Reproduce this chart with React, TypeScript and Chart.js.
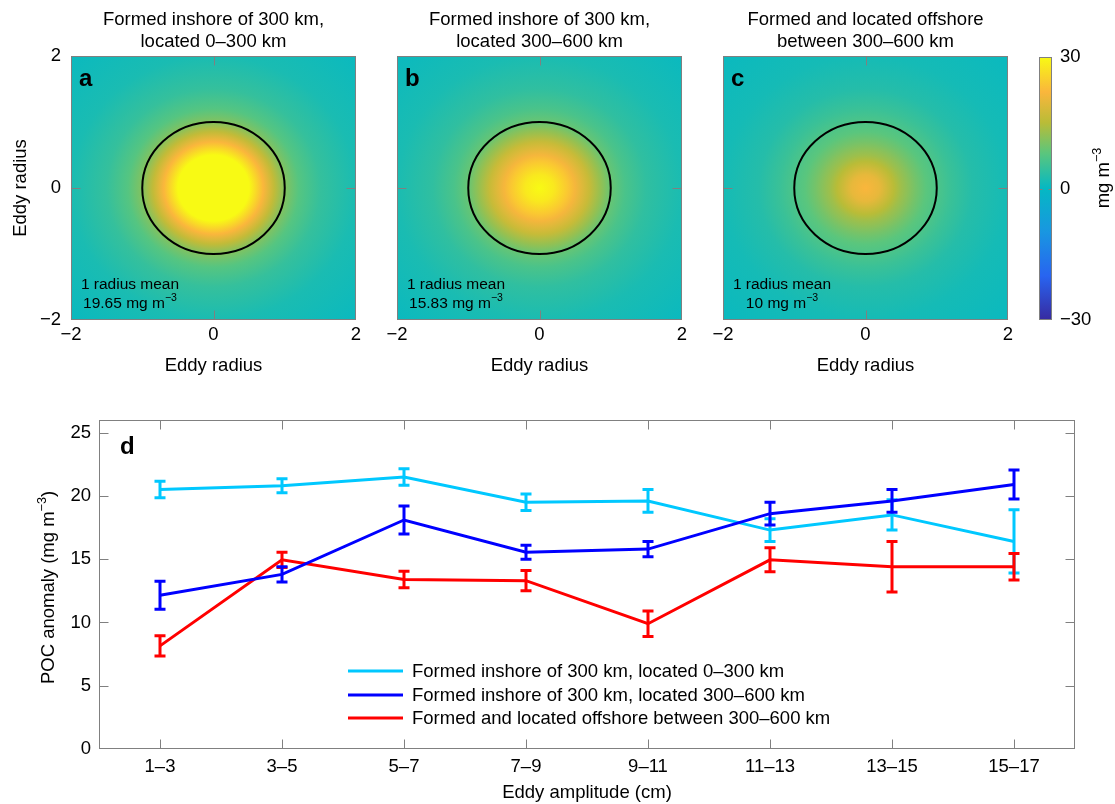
import React, { useEffect, useRef } from 'react';
import { Chart, registerables } from 'chart.js';

Chart.register(...registerables);

const FONT = '"Liberation Sans", Arial, Helvetica, sans-serif';
const MINUS = '\u2212';

// ---------- data: panels a–c ----------
const panelLetters = ['a', 'b', 'c'];
const panelTitleTop = ['Formed inshore of 300 km,', 'Formed inshore of 300 km,', 'Formed and located offshore'];
const panelTitleBottom = ['located 0–300 km', 'located 300–600 km', 'between 300–600 km'];
const oneRadiusMean = ['19.65', '15.83', '10'];
const profileRadius = [0, 0.2, 0.4, 0.5, 0.6, 0.7, 0.85, 1.0, 1.2, 1.5, 2.0, 2.85];
const profileA = [36, 35, 32, 30, 26, 22, 16, 11, 7.5, 4.5, 2, 0.5];
const profileB = [31, 28, 24, 21.5, 19, 16.5, 12.5, 9, 6.5, 4, 2, 0.5];
const profileC = [22, 20, 15, 13, 11.5, 10, 8, 6.8, 5, 3, 1.5, 0.5];
const eddyEdgeRadius = 1;
const radiusTicks = [-2, 0, 2];
const colorbarTicks = [-30, 0, 30];
const colorLevels = [-30, -20, -10, 0, 8, 15, 22, 30];

// ---------- data: panel d ----------
const amplitudeBins = ['1–3', '3–5', '5–7', '7–9', '9–11', '11–13', '13–15', '15–17'];
const seriesLabels = [
  'Formed inshore of 300 km, located 0–300 km',
  'Formed inshore of 300 km, located 300–600 km',
  'Formed and located offshore between 300–600 km',
];
const inshoreNearMean = [20.5, 20.8, 21.5, 19.5, 19.6, 17.3, 18.5, 16.4];
const inshoreNearErr = [0.65, 0.55, 0.65, 0.65, 0.9, 0.9, 1.2, 2.5];
const inshoreFarMean = [12.15, 13.8, 18.1, 15.55, 15.8, 18.6, 19.6, 20.9];
const inshoreFarErr = [1.1, 0.6, 1.1, 0.55, 0.6, 0.9, 0.9, 1.15];
const offshoreMean = [8.15, 14.95, 13.4, 13.3, 9.9, 14.95, 14.4, 14.4];
const offshoreErr = [0.8, 0.6, 0.65, 0.8, 1.0, 0.95, 2.0, 1.05];
const pocTicks = [0, 5, 10, 15, 20, 25];
const pocMax = 26;

// ---------- styles ----------
const COLORMAP_RGB = [
  [55, 42, 160],
  [40, 100, 240],
  [25, 150, 225],
  [5, 184, 195],
  [90, 198, 125],
  [185, 188, 55],
  [250, 182, 60],
  [248, 250, 20],
];
const SERIES_COLORS = ['#00c8ff', '#0000ff', '#ff0000'];
const AXIS_GREY = '#808080';
const TICK_LEN = 9;
const FS = 18.5;

function colorFor(v: number): string {
  const lv = colorLevels;
  const c = Math.max(lv[0], Math.min(lv[lv.length - 1], v));
  let k = 0;
  while (k < lv.length - 2 && c > lv[k + 1]) k++;
  const f = (c - lv[k]) / (lv[k + 1] - lv[k]);
  const a = COLORMAP_RGB[k];
  const b = COLORMAP_RGB[k + 1];
  const m = (i: number) => Math.round(a[i] + (b[i] - a[i]) * f);
  return `rgb(${m(0)},${m(1)},${m(2)})`;
}

type Part = { t: string; sup?: boolean };
function drawRich(
  ctx: CanvasRenderingContext2D,
  parts: Part[],
  x: number,
  y: number,
  size: number,
  align: 'left' | 'center',
  rotate = false,
  weight = 'normal'
) {
  const supSize = size * 0.68;
  const widths = parts.map((p) => {
    ctx.font = `${weight} ${p.sup ? supSize : size}px ${FONT}`;
    return ctx.measureText(p.t).width;
  });
  const total = widths.reduce((a, b) => a + b, 0);
  ctx.save();
  ctx.translate(x, y);
  if (rotate) ctx.rotate(-Math.PI / 2);
  ctx.fillStyle = '#000';
  ctx.textBaseline = 'alphabetic';
  ctx.textAlign = 'left';
  let cx = align === 'center' ? -total / 2 : 0;
  parts.forEach((p, k) => {
    ctx.font = `${weight} ${p.sup ? supSize : size}px ${FONT}`;
    ctx.fillText(p.t, cx, p.sup ? -size * 0.42 : 0);
    cx += widths[k];
  });
  ctx.restore();
}

function drawFrame(ctx: CanvasRenderingContext2D, area: any, xs: number[], ys: number[], len: number) {
  const L = Math.round(area.left) + 0.5;
  const R = Math.round(area.right) - 0.5;
  const T = Math.round(area.top) + 0.5;
  const B = Math.round(area.bottom) - 0.5;
  ctx.save();
  ctx.strokeStyle = AXIS_GREY;
  ctx.lineWidth = 1;
  ctx.beginPath();
  xs.forEach((px) => {
    if (px > L + 2 && px < R - 2) {
      const p = Math.round(px) + 0.5;
      ctx.moveTo(p, B);
      ctx.lineTo(p, B - len);
      ctx.moveTo(p, T);
      ctx.lineTo(p, T + len);
    }
  });
  ys.forEach((py) => {
    if (py > T + 2 && py < B - 2) {
      const p = Math.round(py) + 0.5;
      ctx.moveTo(L, p);
      ctx.lineTo(L + len, p);
      ctx.moveTo(R, p);
      ctx.lineTo(R - len, p);
    }
  });
  ctx.stroke();
  ctx.strokeRect(L, T, R - L, B - T);
  ctx.restore();
}

const fmtNum = (v: number) => (v < 0 ? MINUS + Math.abs(v) : String(v));

function useChart(makeConfig: () => any) {
  const ref = useRef<HTMLCanvasElement>(null);
  useEffect(() => {
    const chart = new Chart(ref.current as HTMLCanvasElement, makeConfig());
    return () => chart.destroy();
  }, []);
  return ref;
}

const PANEL_TOP = 0;
const PANEL_H = 385;
const AREA_TOP = 56;
const AREA_BOTTOM = 320;

function HeatPanel({ idx, boxLeft, boxWidth, areaLeft, areaRight }: any) {
  const profile = [profileA, profileB, profileC][idx];
  const showY = idx === 0;
  const localLeft = areaLeft - boxLeft;
  const padRight = boxLeft + boxWidth - areaRight;
  const ref = useChart(() => ({
    type: 'scatter',
    data: { datasets: [] },
    options: {
      animation: false,
      responsive: false,
      events: [],
      layout: { padding: { left: 0, right: padRight, top: AREA_TOP, bottom: 0 } },
      plugins: { legend: { display: false }, tooltip: { enabled: false }, title: { display: false } },
      scales: {
        x: {
          type: 'linear',
          min: -2,
          max: 2,
          grid: { display: false, drawTicks: false },
          border: { display: false },
          afterBuildTicks: (s: any) => {
            s.ticks = radiusTicks.map((v) => ({ value: v }));
          },
          afterFit: (s: any) => {
            s.height = PANEL_H - AREA_BOTTOM;
          },
          ticks: {
            font: { family: FONT, size: FS },
            color: '#000',
            padding: 4,
            maxRotation: 0,
            autoSkip: false,
            callback: (v: number) => fmtNum(v),
          },
        },
        y: {
          type: 'linear',
          min: -2,
          max: 2,
          display: true,
          grid: { display: false, drawTicks: false },
          border: { display: false },
          afterBuildTicks: (s: any) => {
            s.ticks = radiusTicks.map((v) => ({ value: v }));
          },
          afterFit: (s: any) => {
            s.width = localLeft;
          },
          ticks: {
            display: showY,
            font: { family: FONT, size: FS },
            color: '#000',
            padding: 10,
            autoSkip: false,
            callback: (v: number) => fmtNum(v),
          },
        },
      },
    },
    plugins: [
      {
        id: 'heat',
        beforeDatasetsDraw(chart: any) {
          const { ctx, chartArea: a, scales } = chart;
          const xs = scales.x;
          const ys = scales.y;
          const cx = xs.getPixelForValue(0);
          const cy = ys.getPixelForValue(0);
          const sx = xs.getPixelForValue(1) - cx;
          const sy = cy - ys.getPixelForValue(1);
          const rMax = profileRadius[profileRadius.length - 1];
          ctx.save();
          ctx.beginPath();
          ctx.rect(a.left, a.top, a.right - a.left, a.bottom - a.top);
          ctx.clip();
          ctx.translate(cx, cy);
          ctx.scale(sx, sy);
          const g = ctx.createRadialGradient(0, 0, 0, 0, 0, rMax);
          profileRadius.forEach((r, k) => g.addColorStop(r / rMax, colorFor(profile[k])));
          ctx.fillStyle = g;
          ctx.fillRect(-3, -3, 6, 6);
          ctx.restore();
          // eddy edge circle
          ctx.save();
          ctx.beginPath();
          ctx.ellipse(cx, cy, sx * eddyEdgeRadius, sy * eddyEdgeRadius, 0, 0, Math.PI * 2);
          ctx.strokeStyle = '#000';
          ctx.lineWidth = 2;
          ctx.stroke();
          ctx.restore();
        },
        afterDraw(chart: any) {
          const { ctx, chartArea: a, scales } = chart;
          drawFrame(
            ctx,
            a,
            radiusTicks.map((v) => scales.x.getPixelForValue(v)),
            radiusTicks.map((v) => scales.y.getPixelForValue(v)),
            TICK_LEN
          );
          const mid = (a.left + a.right) / 2;
          drawRich(ctx, [{ t: panelTitleTop[idx] }], mid, 25, FS, 'center');
          drawRich(ctx, [{ t: panelTitleBottom[idx] }], mid, 47, FS, 'center');
          drawRich(ctx, [{ t: panelLetters[idx] }], a.left + 8, 86, 24, 'left', false, 'bold');
          const tx = a.left + 59;
          drawRich(ctx, [{ t: '1 radius mean' }], tx, 289, 15.5, 'center');
          drawRich(ctx, [{ t: oneRadiusMean[idx] + ' mg m' }, { t: MINUS + '3', sup: true }], tx, 308, 15.5, 'center');
          drawRich(ctx, [{ t: 'Eddy radius' }], mid, 371, FS, 'center');
          if (showY) drawRich(ctx, [{ t: 'Eddy radius' }], 26, (a.top + a.bottom) / 2, FS, 'center', true);
        },
      },
    ],
  }));
  return (
    <div style={{ position: 'absolute', left: boxLeft, top: PANEL_TOP, width: boxWidth, height: PANEL_H }}>
      <canvas ref={ref} width={boxWidth} height={PANEL_H} style={{ display: 'block' }} />
    </div>
  );
}

function ColorBar() {
  const boxLeft = 1022;
  const boxWidth = 93;
  const areaLeft = 1039;
  const areaRight = 1052;
  const ref = useChart(() => ({
    type: 'bar',
    data: { labels: [], datasets: [] },
    options: {
      animation: false,
      responsive: false,
      events: [],
      layout: { padding: { left: areaLeft - boxLeft, right: 0, top: 57, bottom: PANEL_H - AREA_BOTTOM } },
      plugins: { legend: { display: false }, tooltip: { enabled: false } },
      scales: {
        x: { display: false },
        y: {
          type: 'linear',
          position: 'right',
          min: colorLevels[0],
          max: colorLevels[colorLevels.length - 1],
          grid: { display: false, drawTicks: false },
          border: { display: false },
          afterBuildTicks: (s: any) => {
            s.ticks = colorbarTicks.map((v) => ({ value: v }));
          },
          afterFit: (s: any) => {
            s.width = boxLeft + boxWidth - areaRight;
          },
          ticks: {
            font: { family: FONT, size: FS },
            color: '#000',
            padding: 8,
            autoSkip: false,
            callback: (v: number) => fmtNum(v),
          },
        },
      },
    },
    plugins: [
      {
        id: 'cbar',
        afterDraw(chart: any) {
          const { ctx, chartArea: a, scales } = chart;
          const y = scales.y;
          const y0 = y.getPixelForValue(colorLevels[0]);
          const y1 = y.getPixelForValue(colorLevels[colorLevels.length - 1]);
          const g = ctx.createLinearGradient(0, y0, 0, y1);
          colorLevels.forEach((v) =>
            g.addColorStop((v - colorLevels[0]) / (colorLevels[colorLevels.length - 1] - colorLevels[0]), colorFor(v))
          );
          ctx.save();
          ctx.fillStyle = g;
          ctx.fillRect(a.left, a.top, a.right - a.left, a.bottom - a.top);
          ctx.restore();
          drawFrame(ctx, a, [], colorbarTicks.map((v) => y.getPixelForValue(v)), 3);
          drawRich(ctx, [{ t: 'mg m' }, { t: MINUS + '3', sup: true }], 1109 - boxLeft, 178, FS, 'center', true);
        },
      },
    ],
  }));
  return (
    <div style={{ position: 'absolute', left: boxLeft, top: PANEL_TOP, width: boxWidth, height: PANEL_H }}>
      <canvas ref={ref} width={boxWidth} height={PANEL_H} style={{ display: 'block' }} />
    </div>
  );
}

function LinePanel() {
  const boxTop = 395;
  const boxH = 409;
  const boxW = 1115;
  const areaLeft = 99;
  const areaRight = 1075;
  const areaTop = 420;
  const areaBottom = 749;
  const means = [inshoreNearMean, inshoreFarMean, offshoreMean];
  const errs = [inshoreNearErr, inshoreFarErr, offshoreErr];
  const drawOrder = [2, 0, 1];
  const ref = useChart(() => ({
    type: 'line',
    data: {
      labels: amplitudeBins,
      datasets: means.map((m, i) => ({
        label: seriesLabels[i],
        data: m,
        borderColor: SERIES_COLORS[i],
        backgroundColor: SERIES_COLORS[i],
        borderWidth: 3,
        pointRadius: 0,
        tension: 0,
        fill: false,
        order: drawOrder[i],
      })),
    },
    options: {
      animation: false,
      responsive: false,
      events: [],
      layout: { padding: { left: 0, right: boxW - areaRight, top: areaTop - boxTop, bottom: 0 } },
      plugins: { legend: { display: false }, tooltip: { enabled: false } },
      scales: {
        x: {
          type: 'category',
          offset: true,
          grid: { display: false, drawTicks: false },
          border: { display: false },
          afterFit: (s: any) => {
            s.height = boxTop + boxH - areaBottom;
          },
          ticks: {
            font: { family: FONT, size: FS },
            color: '#000',
            padding: 7,
            maxRotation: 0,
            autoSkip: false,
          },
        },
        y: {
          type: 'linear',
          min: 0,
          max: pocMax,
          grid: { display: false, drawTicks: false },
          border: { display: false },
          afterBuildTicks: (s: any) => {
            s.ticks = pocTicks.map((v) => ({ value: v }));
          },
          afterFit: (s: any) => {
            s.width = areaLeft;
          },
          ticks: {
            font: { family: FONT, size: FS },
            color: '#000',
            padding: 8,
            autoSkip: false,
          },
        },
      },
    },
    plugins: [
      {
        id: 'errbars',
        afterDatasetDraw(chart: any, args: any) {
          const i = args.index;
          const meta = args.meta;
          const y = chart.scales.y;
          const { ctx } = chart;
          ctx.save();
          ctx.strokeStyle = SERIES_COLORS[i];
          ctx.lineWidth = 3;
          ctx.beginPath();
          means[i].forEach((v, k) => {
            const px = meta.data[k].x;
            const top = y.getPixelForValue(v + errs[i][k]);
            const bot = y.getPixelForValue(v - errs[i][k]);
            ctx.moveTo(px, top);
            ctx.lineTo(px, bot);
            ctx.moveTo(px - 5.5, top);
            ctx.lineTo(px + 5.5, top);
            ctx.moveTo(px - 5.5, bot);
            ctx.lineTo(px + 5.5, bot);
          });
          ctx.stroke();
          ctx.restore();
        },
        afterDraw(chart: any) {
          const { ctx, chartArea: a, scales } = chart;
          drawFrame(
            ctx,
            a,
            amplitudeBins.map((_, k) => scales.x.getPixelForValue(k)),
            pocTicks.map((v) => scales.y.getPixelForValue(v)),
            TICK_LEN
          );
          drawRich(ctx, [{ t: 'd' }], a.left + 21, 454 - boxTop, 24, 'left', false, 'bold');
          // legend
          const rows = [677, 701, 724];
          seriesLabels.forEach((lab, i) => {
            const ry = rows[i] - boxTop;
            ctx.save();
            ctx.strokeStyle = SERIES_COLORS[i];
            ctx.lineWidth = 3;
            ctx.beginPath();
            ctx.moveTo(348, ry - 6);
            ctx.lineTo(403, ry - 6);
            ctx.stroke();
            ctx.restore();
            drawRich(ctx, [{ t: lab }], 412, ry, FS, 'left');
          });
          drawRich(ctx, [{ t: 'Eddy amplitude (cm)' }], (a.left + a.right) / 2, 798 - boxTop, FS, 'center');
          drawRich(
            ctx,
            [{ t: 'POC anomaly (mg m' }, { t: MINUS + '3', sup: true }, { t: ')' }],
            54,
            (a.top + a.bottom) / 2 + 3,
            FS,
            'center',
            true
          );
        },
      },
    ],
  }));
  return (
    <div style={{ position: 'absolute', left: 0, top: boxTop, width: boxW, height: boxH }}>
      <canvas ref={ref} width={boxW} height={boxH} style={{ display: 'block' }} />
    </div>
  );
}

export default function App() {
  return (
    <div style={{ position: 'absolute', left: 0, top: 0, width: 1115, height: 804, background: '#fff', overflow: 'hidden' }}>
      <HeatPanel idx={0} boxLeft={0} boxWidth={372} areaLeft={71} areaRight={356} />
      <HeatPanel idx={1} boxLeft={360} boxWidth={340} areaLeft={397} areaRight={682} />
      <HeatPanel idx={2} boxLeft={695} boxWidth={327} areaLeft={723} areaRight={1008} />
      <ColorBar />
      <LinePanel />
    </div>
  );
}
